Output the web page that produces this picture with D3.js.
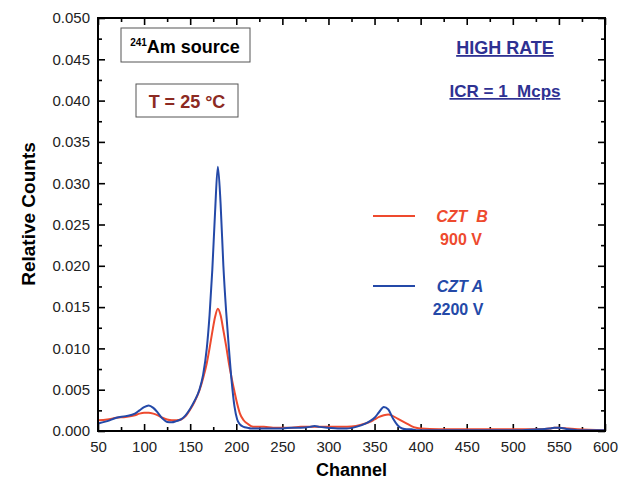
<!DOCTYPE html>
<html>
<head>
<meta charset="utf-8">
<script src="https://cdn.jsdelivr.net/npm/d3@7"></script>
<style>
  body { margin: 0; background: #fff; }
  svg { display: block; font-family: 'Liberation Sans', Arial, sans-serif; }
</style>
</head>
<body>
<div class="container"></div>
<script>
// channel positions shared by both spectra
var channels = [50, 60, 70, 80, 90, 95, 100, 105, 110, 115, 120, 125, 130, 135, 140, 145, 150, 155,
  160, 164, 168, 171, 174, 177, 180, 183, 186, 189, 192, 195, 198, 201, 204, 208, 212, 216,
  220, 230, 240, 250, 260, 270, 280, 285, 290, 300, 310, 320, 330, 340, 345, 350, 355, 360,
  365, 370, 375, 380, 385, 390, 395, 400, 420, 450, 480, 510, 530, 540, 545, 550, 560, 570, 600];

// CZT A, 2200 V (blue)
var cztA = [0.0009, 0.0012, 0.0016, 0.0018, 0.0021, 0.0025, 0.0029, 0.0031, 0.0028, 0.0022, 0.0015, 0.0011, 0.00105, 0.0012, 0.0014, 0.0019, 0.0027, 0.0037,
  0.0050, 0.0068, 0.0100, 0.0140, 0.0195, 0.0265, 0.0320, 0.0275, 0.0200, 0.0145, 0.0100, 0.0060, 0.0030, 0.0014, 0.0008, 0.0005, 0.0004, 0.0003,
  0.0003, 0.0003, 0.0003, 0.0003, 0.0004, 0.0004, 0.0005, 0.0006, 0.0005, 0.0004, 0.0003, 0.0003, 0.0005, 0.0009, 0.0012, 0.0016, 0.0023, 0.0029,
  0.0026, 0.0015, 0.0007, 0.0003, 0.0002, 0.0002, 0.0001, 0.0001, 0.0001, 0.0001, 0.0001, 0.0001, 0.0002, 0.0003, 0.0004, 0.0004, 0.0002, 0.0001, 0.0001];

// CZT B, 900 V (red)
var cztB = [0.0013, 0.0014, 0.0016, 0.0017, 0.0019, 0.0021, 0.0022, 0.0022, 0.0021, 0.0019, 0.0016, 0.0014, 0.0013, 0.0013, 0.0014, 0.0018, 0.0026, 0.0036,
  0.0049, 0.0064, 0.0082, 0.0100, 0.0120, 0.0138, 0.0148, 0.0140, 0.0122, 0.0103, 0.0082, 0.0064, 0.0048, 0.0033, 0.0021, 0.0013, 0.0009, 0.0006,
  0.0005, 0.0005, 0.0004, 0.0004, 0.0004, 0.0005, 0.0005, 0.0005, 0.0005, 0.0005, 0.0005, 0.0005, 0.0006, 0.0009, 0.0011, 0.0014, 0.0017, 0.0019,
  0.0020, 0.0018, 0.0015, 0.0012, 0.0009, 0.0006, 0.0004, 0.0003, 0.0002, 0.0002, 0.0002, 0.0002, 0.0002, 0.0003, 0.0004, 0.0004, 0.0003, 0.0002, 0.0001];

var xTicks = d3.range(50, 601, 50);
var yTicks = d3.range(0, 0.0501, 0.005);

var red = "#ee4a2e", blue = "#2449a8";

var margin = {top: 18, right: 15, bottom: 50, left: 98},
    width = 620,
    height = 481;

var svg = d3.select(".container").append("svg")
    .attr("width", width)
    .attr("height", height);

var x = d3.scaleLinear().domain([50, 600]).range([margin.left, width - margin.right]);
var y = d3.scaleLinear().domain([0, 0.05]).range([height - margin.bottom, margin.top]);

var x0 = margin.left, x1 = width - margin.right, y0 = height - margin.bottom, y1 = margin.top;

function styleAxis(g) {
  g.select(".domain").remove();
  g.selectAll(".tick line").attr("stroke", "#000").attr("stroke-width", 1.6);
  g.selectAll("text").style("font-size", "15px").attr("fill", "#222");
}

var xMinor = d3.range(75, 600, 50), yMinor = d3.range(0.0025, 0.05, 0.005);

// bottom / top axes
svg.append("g").attr("transform", `translate(0,${y0})`)
    .call(d3.axisBottom(x).tickValues(xTicks).tickFormat(d3.format("d")).tickSize(-7).tickPadding(10))
    .call(styleAxis);
svg.append("g").attr("transform", `translate(0,${y0})`)
    .call(d3.axisBottom(x).tickValues(xMinor).tickFormat("").tickSize(-4))
    .call(styleAxis);
svg.append("g").attr("transform", `translate(0,${y1})`)
    .call(d3.axisTop(x).tickValues(xTicks).tickFormat("").tickSize(-7))
    .call(styleAxis);
svg.append("g").attr("transform", `translate(0,${y1})`)
    .call(d3.axisTop(x).tickValues(xMinor).tickFormat("").tickSize(-4))
    .call(styleAxis);

// left / right axes
svg.append("g").attr("transform", `translate(${x0},0)`)
    .call(d3.axisLeft(y).tickValues(yTicks).tickFormat(d3.format(".3f")).tickSize(-7).tickPadding(8))
    .call(styleAxis);
svg.append("g").attr("transform", `translate(${x0},0)`)
    .call(d3.axisLeft(y).tickValues(yMinor).tickFormat("").tickSize(-4))
    .call(styleAxis);
svg.append("g").attr("transform", `translate(${x1},0)`)
    .call(d3.axisRight(y).tickValues(yTicks).tickFormat("").tickSize(-7))
    .call(styleAxis);
svg.append("g").attr("transform", `translate(${x1},0)`)
    .call(d3.axisRight(y).tickValues(yMinor).tickFormat("").tickSize(-4))
    .call(styleAxis);

// spectra
var line = d3.line()
    .x((d, i) => x(channels[i]))
    .y(d => y(d))
    .curve(d3.curveMonotoneX);

svg.append("path").datum(cztB)
    .attr("fill", "none").attr("stroke", red).attr("stroke-width", 2)
    .attr("d", line);
svg.append("path").datum(cztA)
    .attr("fill", "none").attr("stroke", blue).attr("stroke-width", 2)
    .attr("d", line);

// frame
svg.append("rect")
    .attr("x", x0).attr("y", y1)
    .attr("width", x1 - x0).attr("height", y0 - y1)
    .attr("fill", "none").attr("stroke", "#000").attr("stroke-width", 2);

// axis titles
svg.append("text")
    .attr("x", (x0 + x1) / 2).attr("y", 476)
    .attr("text-anchor", "middle")
    .style("font-size", "18px").style("font-weight", "bold")
    .text("Channel");
svg.append("text")
    .attr("transform", "translate(35,214) rotate(-90)")
    .attr("text-anchor", "middle")
    .style("font-size", "19px").style("font-weight", "bold")
    .text("Relative Counts");

// boxed annotations
svg.append("rect").attr("x", 121).attr("y", 28).attr("width", 129).attr("height", 34)
    .attr("fill", "none").attr("stroke", "#555").attr("stroke-width", 1);
var am = svg.append("text").attr("x", 185).attr("y", 53).attr("text-anchor", "middle")
    .style("font-weight", "bold").style("font-size", "18px");
am.append("tspan").attr("dy", -7).style("font-size", "10px").text("241");
am.append("tspan").attr("dy", 7).text("Am source");

svg.append("rect").attr("x", 136).attr("y", 84).attr("width", 102).attr("height", 33)
    .attr("fill", "none").attr("stroke", "#555").attr("stroke-width", 1);
svg.append("text").attr("x", 187).attr("y", 108).attr("text-anchor", "middle")
    .style("font-weight", "bold").style("font-size", "18px").attr("fill", "#8c2a22")
    .text("T = 25 °C");

// high-rate notes
var navy = "#2e3192";
svg.append("text").attr("x", 505).attr("y", 54).attr("text-anchor", "middle")
    .style("font-weight", "bold").style("font-size", "18px").attr("fill", navy)
    .style("text-decoration", "underline")
    .text("HIGH RATE");
svg.append("text").attr("x", 505).attr("y", 97).attr("text-anchor", "middle")
    .style("font-weight", "bold").style("font-size", "17px").attr("fill", navy)
    .style("text-decoration", "underline").style("white-space", "pre")
    .text("ICR = 1  Mcps");

// legend
var legend = [
  {name: "CZT  B", volt: "900 V", color: red, y: 216, tx: 462, vx: 461},
  {name: "CZT A", volt: "2200 V", color: blue, y: 286, tx: 460, vx: 458}
];
var lg = svg.append("g").selectAll("g").data(legend).join("g");
lg.append("line")
    .attr("x1", 373).attr("x2", 415)
    .attr("y1", d => d.y).attr("y2", d => d.y)
    .attr("stroke", d => d.color).attr("stroke-width", 2);
lg.append("text")
    .attr("x", d => d.tx).attr("y", d => d.y + 6)
    .attr("text-anchor", "middle").style("white-space", "pre")
    .style("font-weight", "bold").style("font-style", "italic").style("font-size", "16px")
    .attr("fill", d => d.color).text(d => d.name);
lg.append("text")
    .attr("x", d => d.vx).attr("y", d => d.y + 29)
    .attr("text-anchor", "middle")
    .style("font-weight", "bold").style("font-size", "16px")
    .attr("fill", d => d.color).text(d => d.volt);
</script>
</body>
</html>
